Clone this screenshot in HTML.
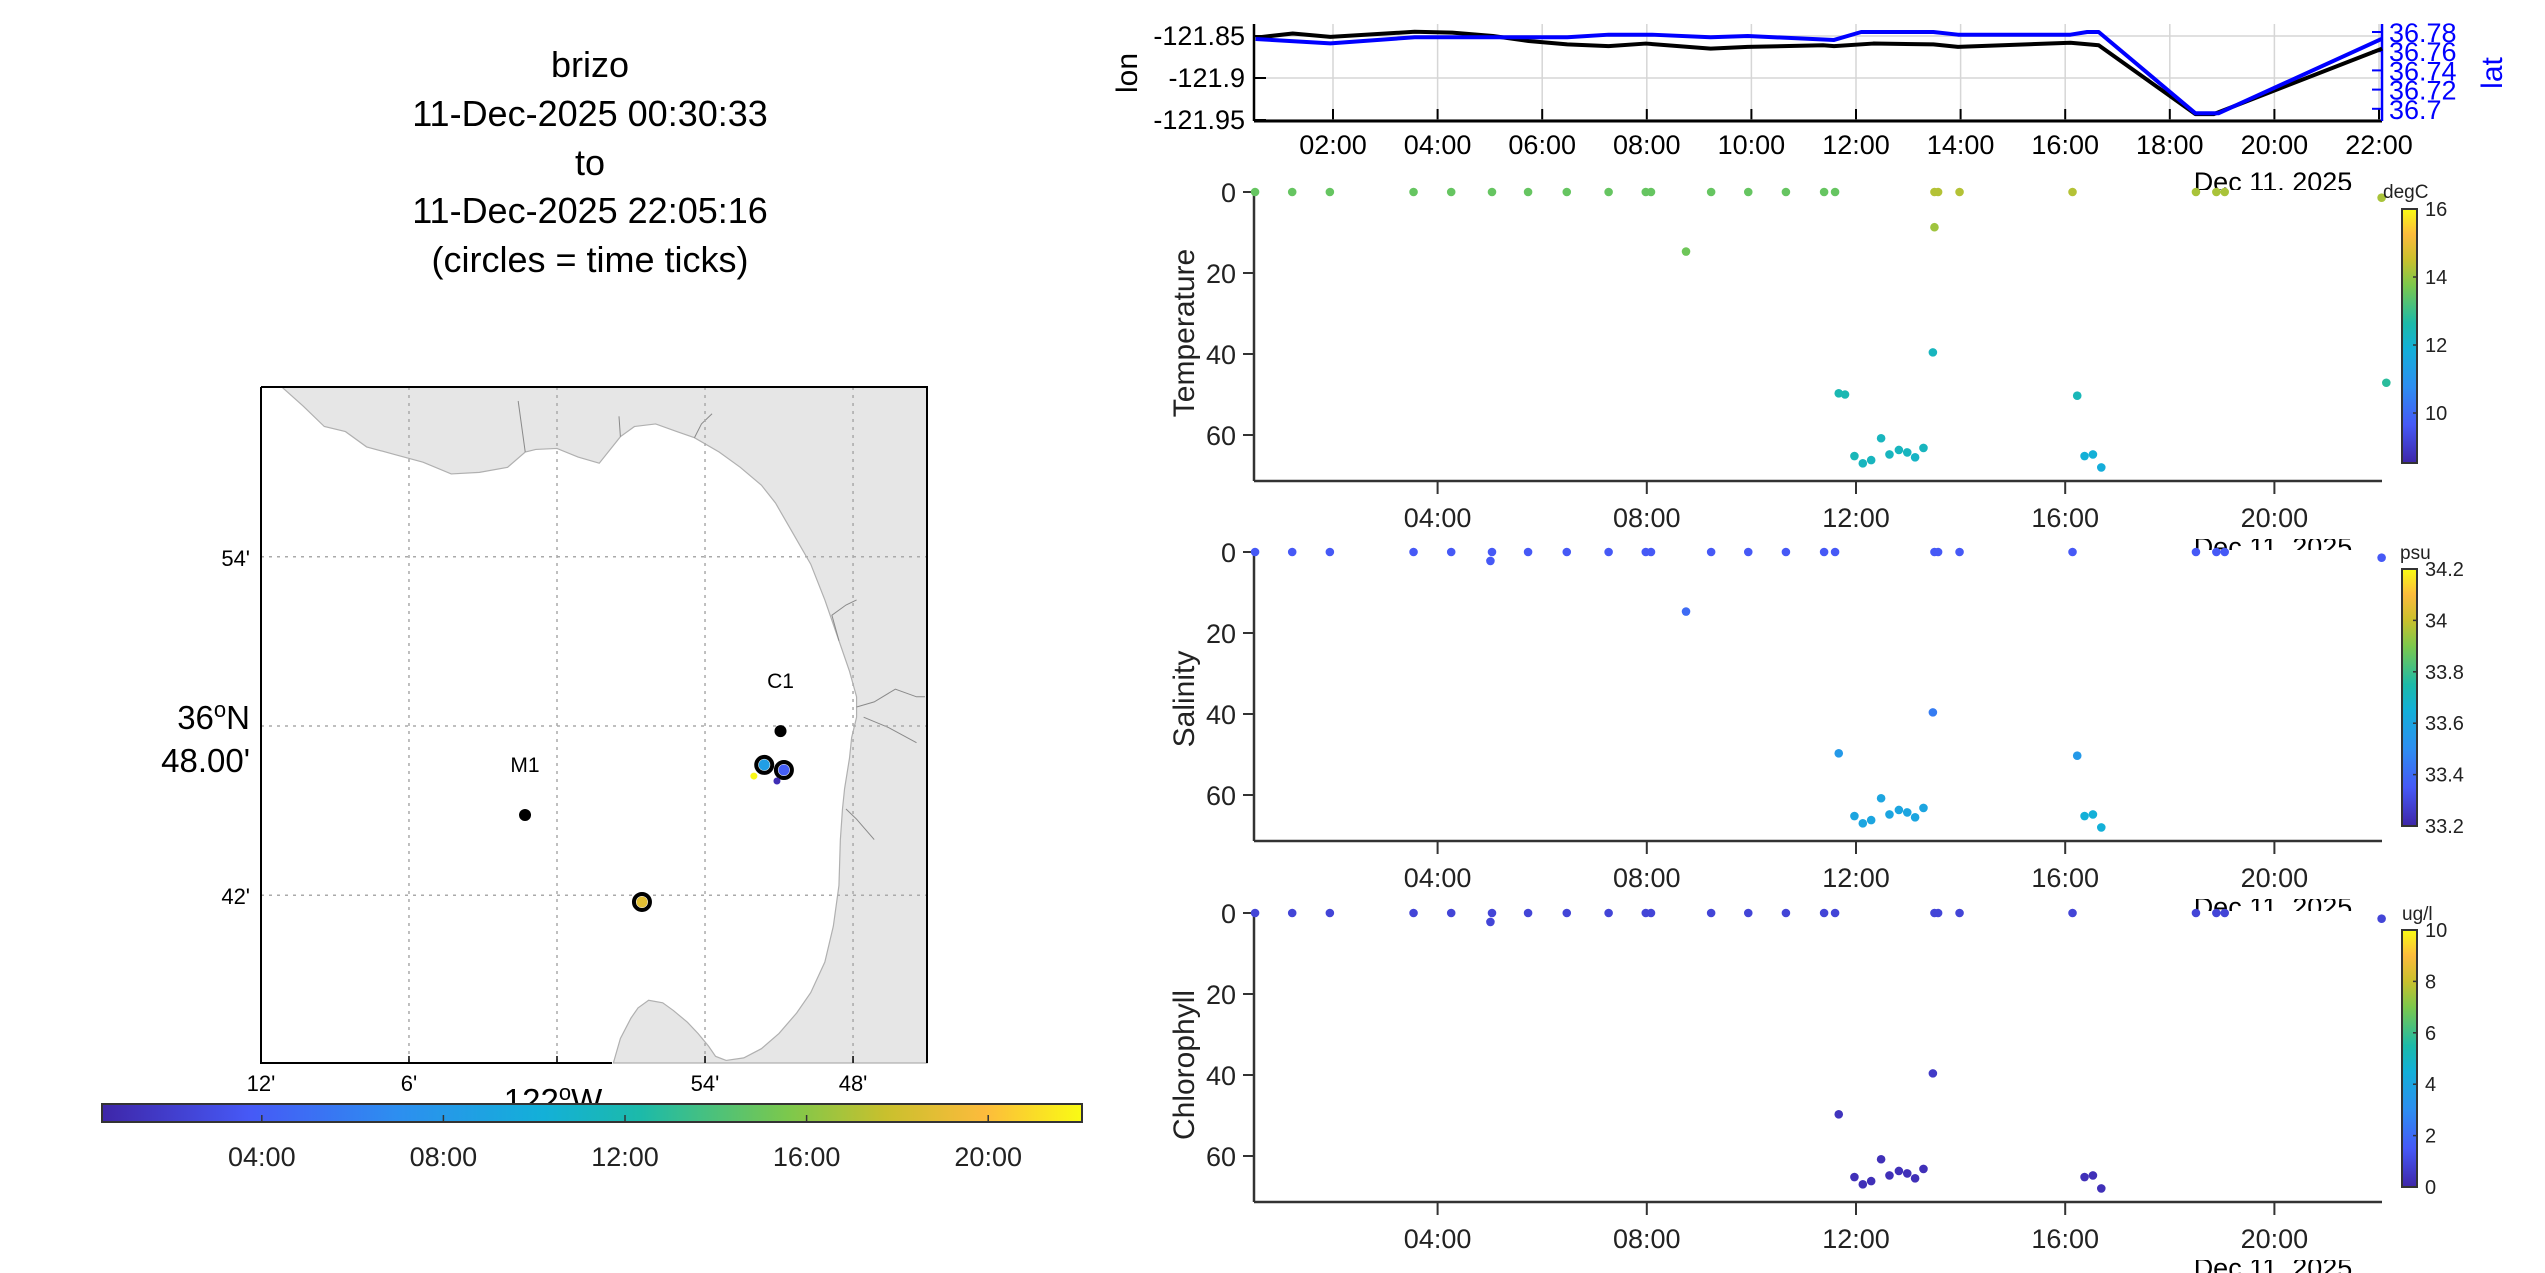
<!DOCTYPE html>
<html><head><meta charset="utf-8"><style>
html,body{margin:0;padding:0;background:#fff;}
svg{display:block;font-family:"Liberation Sans",Arial,sans-serif;}
</style></head><body>
<svg id="fig" width="2545" height="1273" viewBox="0 0 2545 1273" xmlns="http://www.w3.org/2000/svg">
<defs>
<linearGradient id="parH" x1="0" y1="0" x2="1" y2="0">
<stop offset="0" stop-color="#3e26a8"/><stop offset="0.15" stop-color="#4659f6"/><stop offset="0.3" stop-color="#2d8ef0"/><stop offset="0.45" stop-color="#13b0d8"/><stop offset="0.55" stop-color="#1cbaa9"/><stop offset="0.7" stop-color="#7cc84c"/><stop offset="0.8" stop-color="#c9c02d"/><stop offset="0.9" stop-color="#fcbb3c"/><stop offset="1" stop-color="#f9fb14"/>
</linearGradient>
<linearGradient id="parV" x1="0" y1="1" x2="0" y2="0">
<stop offset="0" stop-color="#3e26a8"/><stop offset="0.15" stop-color="#4659f6"/><stop offset="0.3" stop-color="#2d8ef0"/><stop offset="0.45" stop-color="#13b0d8"/><stop offset="0.55" stop-color="#1cbaa9"/><stop offset="0.7" stop-color="#7cc84c"/><stop offset="0.8" stop-color="#c9c02d"/><stop offset="0.9" stop-color="#fcbb3c"/><stop offset="1" stop-color="#f9fb14"/>
</linearGradient>
</defs>
<g font-size="36" text-anchor="middle" fill="#000">
<text x="590" y="77">brizo</text>
<text x="590" y="126">11-Dec-2025 00:30:33</text>
<text x="590" y="175">to</text>
<text x="590" y="223">11-Dec-2025 22:05:16</text>
<text x="590" y="272">(circles = time ticks)</text>
</g>
<g id="map"></g>
<g id="mapcb"></g>
<g id="top"></g>
<g id="depth"></g>
</svg>
<script>
// ---------- data ----------
const navTime = [0.52,1.23,1.95,3.56,4.28,5.06,5.74,6.48,7.27,7.98,9.22,9.93,11.37,11.58,12.33,13.48,13.95,16.1,16.64,18.49,18.84,22.06];
const navLon = [-121.852,-121.847,-121.851,-121.845,-121.846,-121.85,-121.856,-121.86,-121.862,-121.859,-121.865,-121.863,-121.861,-121.862,-121.859,-121.86,-121.863,-121.858,-121.861,-121.943,-121.943,-121.865];
const latTime = [0.52,1.95,3.56,6.48,7.27,8.1,9.22,9.93,11.58,12.1,13.48,13.95,16.1,16.42,16.64,18.49,18.93,22.06];
const latVal = [36.7727,36.7682,36.7745,36.7745,36.7772,36.7772,36.7745,36.7758,36.7717,36.78,36.78,36.7772,36.7772,36.78,36.78,36.6953,36.6953,36.773];
const lonTicks = [-121.85,-121.9,-121.95];
const lonTickLabels = ["-121.85","-121.9","-121.95"];
const latTicks = [36.78,36.76,36.74,36.72,36.7];
const latTickLabels = ["36.78","36.76","36.74","36.72","36.7"];
const topHours = [2,4,6,8,10,12,14,16,18,20,22];
const topHourLabels = ["02:00","04:00","06:00","08:00","10:00","12:00","14:00","16:00","18:00","20:00","22:00"];
const depthHours = [4,8,12,16,20];
const depthHourLabels = ["04:00","08:00","12:00","16:00","20:00"];
const depthTicks = [0,20,40,60];
const sTime = [0.51,1.22,1.94,3.54,4.26,5.04,5.73,6.47,7.27,7.98,8.08,9.23,9.94,10.66,11.39,11.6,13.5,13.57,13.98,16.14,18.5,18.89,19.05,22.05,
 8.75,13.5,13.47,11.67,11.79,16.23,22.14,12.48,11.97,12.13,12.29,12.64,12.82,12.98,13.13,13.29,16.37,16.53,16.69];
const sDepth = [0,0,0,0,0,0,0,0,0,0,0,0,0,0,0,0,0,0,0,0,0,0,0,1.4,
 14.7,8.7,39.6,49.7,50.0,50.3,47.1,60.8,65.2,67.0,66.2,64.8,63.7,64.3,65.5,63.2,65.2,64.8,68.0];
const sTemp = [13.5,13.5,13.5,13.5,13.5,13.5,13.5,13.5,13.5,13.5,13.5,13.5,13.5,13.5,13.5,13.5,14.3,14.3,14.3,14.3,14.2,14.2,14.2,14.2,
 13.6,14.1,12.3,12.5,12.5,12.4,12.8,12.3,12.4,12.3,12.3,12.3,12.3,12.3,12.2,12.3,11.9,11.9,11.8];
const sSal = [33.35,33.35,33.35,33.35,33.35,33.35,33.35,33.35,33.35,33.35,33.35,33.35,33.35,33.35,33.35,33.35,33.35,33.35,33.35,33.35,33.35,33.35,33.35,33.35,
 33.4,null,33.45,33.55,null,33.55,null,33.6,33.6,33.6,33.6,33.6,33.6,33.6,33.6,33.6,33.65,33.65,33.65];
const sChl = [0.9,0.9,0.9,0.9,0.9,0.9,0.9,0.9,0.9,0.9,0.9,0.9,0.9,0.9,0.9,0.9,0.9,0.9,0.9,0.9,0.9,0.9,0.9,0.9,
 null,null,0.6,0.4,null,null,null,0.3,0.3,0.3,0.3,0.3,0.3,0.3,0.3,0.3,0.3,0.3,0.3];
const xTime = [5.01];
const xDepth = [2.2];
const trkLon = [-121.860,-121.8467,-121.9426,-121.867,-121.8514];
const trkLat = [36.777,36.774,36.696,36.7704,36.7675];
const trkTime = [8.5,4.0,18.8,22.0,1.0];
const trkRing = [true,true,true,false,false];
const stName = ["M1","C1"];
const stLon = [-122.0216,-121.849];
const stLat = [36.7474,36.797];
const mapLonTicks = [-122.2,-122.1,-122.0,-121.9,-121.8];
const mapLonLabels = ["12'","6'","","54'","48'"];
const mapLatTicks = [36.9,36.8,36.7];
const cbHours = [4,8,12,16,20];
const cbLabels = ["04:00","08:00","12:00","16:00","20:00"];

const NS="http://www.w3.org/2000/svg";
function mk(parent,tag,attrs,text){const e=document.createElementNS(NS,tag);for(const k in attrs)e.setAttribute(k,attrs[k]);if(text!==undefined)e.textContent=text;parent.appendChild(e);return e;}
const pstops=[[0,[62,38,168]],[0.15,[70,89,246]],[0.3,[45,142,240]],[0.45,[19,176,216]],[0.55,[28,186,169]],[0.7,[124,200,76]],[0.8,[201,192,45]],[0.9,[252,187,60]],[1,[249,251,20]]];
function parula(f){f=Math.max(0,Math.min(1,f));for(let i=1;i<pstops.length;i++){if(f<=pstops[i][0]){const a=pstops[i-1],b=pstops[i];const u=(f-a[0])/(b[0]-a[0]);const c=a[1].map((v,j)=>Math.round(v+(b[1][j]-v)*u));return `rgb(${c[0]},${c[1]},${c[2]})`;}}return "rgb(249,251,20)";}

const tx = t => 1333 + (t-2)*52.3;
const X0 = 1254, X1 = 2382;

// ---------- top lon/lat plot ----------
const topG = document.getElementById('top');
const yLon = v => 36 + (-121.85 - v)/0.05*42;
const yLat = v => 32 + (36.78 - v)/0.02*19.2;
topHours.forEach((h,i)=>{
  const g=mk(topG,'line',{x1:tx(h),x2:tx(h),y1:24,y2:121,stroke:'#d6d6d6','stroke-width':1.5});
  
  
  const tk=mk(topG,'line',{x1:tx(h),x2:tx(h),y1:109,y2:121,stroke:'#000','stroke-width':2});
  
  
  const l=mk(topG,'text',{x:tx(h),y:154,'font-size':27,'text-anchor':'middle'},topHourLabels[i]);
  
  
});
lonTicks.forEach((v,i)=>{
  const g=mk(topG,'line',{x1:X0,x2:X1,y1:yLon(v),y2:yLon(v),stroke:'#d6d6d6','stroke-width':1.5});
  
  
  const tk=mk(topG,'line',{x1:X0,x2:X0+12,y1:yLon(v),y2:yLon(v),stroke:'#000','stroke-width':2});
  
  
  const l=mk(topG,'text',{x:1245,y:yLon(v)+9,'font-size':27,'text-anchor':'end'},lonTickLabels[i]);
  
  
});
latTicks.forEach((v,i)=>{
  const tk=mk(topG,'line',{x1:X1-10,x2:X1,y1:yLat(v),y2:yLat(v),stroke:'#0000ff','stroke-width':2});
  
  
  const l=mk(topG,'text',{x:X1+7,y:yLat(v)+10,'font-size':27,fill:'#0000ff'},latTickLabels[i]);
  
  
});
{
 let a=mk(topG,'line',{x1:X0,x2:X0,y1:24,y2:121,stroke:'#000','stroke-width':2.5});
 
 
 a=mk(topG,'line',{x1:X0,x2:X1,y1:121,y2:121,stroke:'#000','stroke-width':3});
 
 
 a=mk(topG,'line',{x1:X1,x2:X1,y1:24,y2:121,stroke:'#0000ff','stroke-width':2.5});
 
 
 let p=mk(topG,'polyline',{points:navTime.map((t,i)=>tx(t)+','+yLon(navLon[i])).join(' '),fill:'none',stroke:'#000','stroke-width':4,'stroke-linejoin':'round'});
 
 
 p=mk(topG,'polyline',{points:latTime.map((t,i)=>tx(t)+','+yLat(latVal[i])).join(' '),fill:'none',stroke:'#0000ff','stroke-width':4,'stroke-linejoin':'round'});
 
 
 let t=mk(topG,'text',{x:0,y:0,'font-size':30,'text-anchor':'middle',transform:'translate(1137,73) rotate(-90)'},'lon');
 
 
 t=mk(topG,'text',{x:0,y:0,'font-size':30,fill:'#0000ff','text-anchor':'middle',transform:'translate(2502,73) rotate(-90)'},'lat');
 
 
 t=mk(topG,'text',{x:2273,y:191,'font-size':27,'text-anchor':'middle'},'Dec 11. 2025');
 
 
}

// ---------- depth plots ----------
const dep = document.getElementById('depth');
const panels = [
 {name:'temperature',title:'Temperature',top:192,vals:sTemp,vmin:8.53,vmax:16,cbTop:209,cbBot:463,cbTicks:[16,14,12,10],cbLab:["16","14","12","10"],unit:'degC',ux:2383,uy:198,extra:false,titleY:333},
 {name:'salinity',title:'Salinity',top:552,vals:sSal,vmin:33.2,vmax:34.2,cbTop:569,cbBot:826,cbTicks:[34.2,34,33.8,33.6,33.4,33.2],cbLab:["34.2","34","33.8","33.6","33.4","33.2"],unit:'psu',ux:2400,uy:559,extra:true,titleY:699},
 {name:'chlorophyll',title:'Chlorophyll',top:913,vals:sChl,vmin:0,vmax:10,cbTop:930,cbBot:1187,cbTicks:[10,8,6,4,2,0],cbLab:["10","8","6","4","2","0"],unit:'ug/l',ux:2402,uy:920,extra:true,titleY:1065}
];
panels.forEach(P=>{
  const t=mk(dep,'text',{x:2273,y:P.top+289+75,'font-size':27,'text-anchor':'middle'},'Dec 11, 2025');
  
  
});
panels.forEach(P=>{
  const g=mk(dep,'g',{});
  
  
  const bottom=P.top+289;
  const yd=d=>P.top+d*4.05;
  const bg=mk(g,'rect',{x:X0-4,y:P.top-2,width:X1-X0+160,height:bottom-P.top+60,fill:'#fff'});
  
  
  depthHours.forEach((h,i)=>{
    const tk=mk(g,'line',{x1:tx(h),x2:tx(h),y1:bottom,y2:bottom+13,stroke:'#333','stroke-width':2});
    
    
    const l=mk(g,'text',{x:tx(h),y:bottom+46,'font-size':27,'text-anchor':'middle',fill:'#222'},depthHourLabels[i]);
    
    
  });
  depthTicks.forEach(d=>{
    const tk=mk(g,'line',{x1:X0-11,x2:X0,y1:yd(d),y2:yd(d),stroke:'#333','stroke-width':2});
    
    
    const l=mk(g,'text',{x:1236,y:yd(d)+10,'font-size':27,'text-anchor':'end',fill:'#222'},String(d));
    
    
  });
  let a=mk(g,'line',{x1:X0,x2:X0,y1:P.top,y2:bottom,stroke:'#333','stroke-width':2.5});
  
  
  a=mk(g,'line',{x1:X0,x2:X1,y1:bottom,y2:bottom,stroke:'#333','stroke-width':2.5});
  
  
  const tt=mk(g,'text',{x:0,y:0,'font-size':30,'text-anchor':'middle',fill:'#222',transform:`translate(1194,${P.titleY}) rotate(-90)`},P.title);
  
  
  sTime.forEach((t,i)=>{
    if(P.vals[i]===null) return;
    const c=mk(g,'circle',{cx:tx(t),cy:yd(sDepth[i]),r:4.3,fill:parula((P.vals[i]-P.vmin)/(P.vmax-P.vmin))});
    
    
  });
  if(P.extra){xTime.forEach((t,i)=>{
    const c=mk(g,'circle',{cx:tx(t),cy:yd(xDepth[i]),r:4.3,fill:parula((P.vals[0]-P.vmin)/(P.vmax-P.vmin))});
    
    
  });}
  const cb=mk(g,'rect',{x:2402,y:P.cbTop,width:15,height:P.cbBot-P.cbTop,fill:'url(#parV)',stroke:'#333','stroke-width':2});
  
  
  P.cbTicks.forEach((v,i)=>{
    const y=P.cbBot-(v-P.vmin)/(P.vmax-P.vmin)*(P.cbBot-P.cbTop);
    const tk=mk(g,'line',{x1:2413,x2:2417,y1:y,y2:y,stroke:'#333','stroke-width':1.5});
    
    
    const l=mk(g,'text',{x:2425,y:y+7,'font-size':20,fill:'#222'},P.cbLab[i]);
    
    
  });
  const u=mk(g,'text',{x:P.ux,y:P.uy,'font-size':19,fill:'#222'},P.unit);
  
  
});

// ---------- map ----------
const mapG=document.getElementById('map');
const mx = lon => 557 + (lon + 122.0)*60*24.67;
const my = lat => 726 - (lat - 36.8)*60*28.2;
{
 const land=mk(mapG,'path',{transform:'translate(0,350) scale(0.705,0.51)',fill:'#e6e6e6',stroke:'#b0b0b0','stroke-width':1.2,'vector-effect':'non-scaling-stroke',
  d:'M400,73 L430,110 L460,150 L490,160 L520,190 L560,205 L600,220 L640,243 L680,240 L720,230 L745,200 L760,195 L790,193 L820,210 L850,222 L880,170 L900,150 L930,145 L960,160 L985,172 L1020,200 L1050,230 L1080,265 L1100,300 L1125,360 L1150,420 L1170,490 L1190,570 L1205,630 L1215,680 L1215,720 L1208,760 L1205,800 L1198,860 L1195,900 L1192,960 L1190,1050 L1182,1130 L1170,1200 L1150,1260 L1130,1300 L1105,1340 L1080,1370 L1055,1388 L1030,1393 L1015,1385 L1005,1365 L990,1340 L975,1318 L955,1295 L940,1280 L920,1275 L905,1290 L895,1310 L880,1350 L870,1398 L1315,1398 L1315,73 Z'});
 
 
 const riv=mk(mapG,'path',{transform:'translate(0,350) scale(0.705,0.51)',fill:'none',stroke:'#8a8a8a','stroke-width':1,'vector-effect':'non-scaling-stroke',
  d:'M745,200 L740,150 L735,100 M880,170 L878,130 M985,172 L995,145 L1010,125 M1190,570 L1180,520 L1200,500 L1215,490 M1215,700 L1240,690 L1270,665 L1300,680 L1312,680 M1225,720 L1260,740 L1300,770 M1200,900 L1215,920 L1240,960'});
 
 
 mapLonTicks.forEach((lon,i)=>{
   if(i>0){const g=mk(mapG,'line',{x1:mx(lon),x2:mx(lon),y1:387,y2:1063,stroke:'#aaa','stroke-width':1.5,'stroke-dasharray':'3,5'});
   
   }
   const tk=mk(mapG,'line',{x1:mx(lon),x2:mx(lon),y1:1056,y2:1063,stroke:'#000','stroke-width':1.5});
   
   
   const l=mk(mapG,'text',{x:mx(lon),y:1091,'font-size':22,'text-anchor':'middle'},mapLonLabels[i]);
   
   
 });
 mapLatTicks.forEach(lat=>{
   const g=mk(mapG,'line',{x1:261,x2:927,y1:my(lat),y2:my(lat),stroke:'#aaa','stroke-width':1.5,'stroke-dasharray':'3,5'});
   
   
 });
 let l=mk(mapG,'text',{x:250,y:566,'font-size':22,'text-anchor':'end'},"54'");
 
 
 l=mk(mapG,'text',{x:250,y:904,'font-size':22,'text-anchor':'end'},"42'");
 
 
 l=mk(mapG,'text',{x:250,y:729,'font-size':33,'text-anchor':'end'});
 l.innerHTML='36<tspan dy="-12" font-size="22">o</tspan><tspan dy="12">N</tspan>';
 
 
 l=mk(mapG,'text',{x:250,y:772,'font-size':33,'text-anchor':'end'},"48.00'");
 
 
 l=mk(mapG,'text',{x:553,y:1112,'font-size':33,'text-anchor':'middle'});
 l.innerHTML='122<tspan dy="-12" font-size="22">o</tspan><tspan dy="12">W</tspan>';
 
 
 const fr=mk(mapG,'path',{d:'M261,387 L927,387 L927,1063 M261,387 L261,1063 L612,1063',fill:'none',stroke:'#000','stroke-width':2});
 
 
 stName.forEach((n,i)=>{
   const c=mk(mapG,'circle',{cx:mx(stLon[i]),cy:my(stLat[i]),r:6,fill:'#000'});
   
   
   const t=mk(mapG,'text',{x:mx(stLon[i]),y:my(stLat[i])-43,'font-size':21,'text-anchor':'middle'},n);
   
   
 });
 trkTime.forEach((t,i)=>{
   if(trkRing[i]){const r=mk(mapG,'circle',{cx:mx(trkLon[i]),cy:my(trkLat[i]),r:8,fill:'none',stroke:'#000','stroke-width':4});
   
   }
   const c=mk(mapG,'circle',{cx:mx(trkLon[i]),cy:my(trkLat[i]),r:trkRing[i]?5.5:3.5,fill:parula((t-0.48)/(22.1-0.48))});
   
   
 });
}
const mcb=document.getElementById('mapcb');
{
 const cx = h => 102 + (h-0.48)*45.4;
 const r=mk(mcb,'rect',{x:102,y:1104,width:980,height:18,fill:'url(#parH)',stroke:'#333','stroke-width':2});
 
 
 cbHours.forEach((h,i)=>{
   const tk=mk(mcb,'line',{x1:cx(h),x2:cx(h),y1:1115,y2:1122,stroke:'#333','stroke-width':1.5});
   
   
   const l=mk(mcb,'text',{x:cx(h),y:1166,'font-size':27,'text-anchor':'middle',fill:'#222'},cbLabels[i]);
   
   
 });
}
</script>
</body></html>
